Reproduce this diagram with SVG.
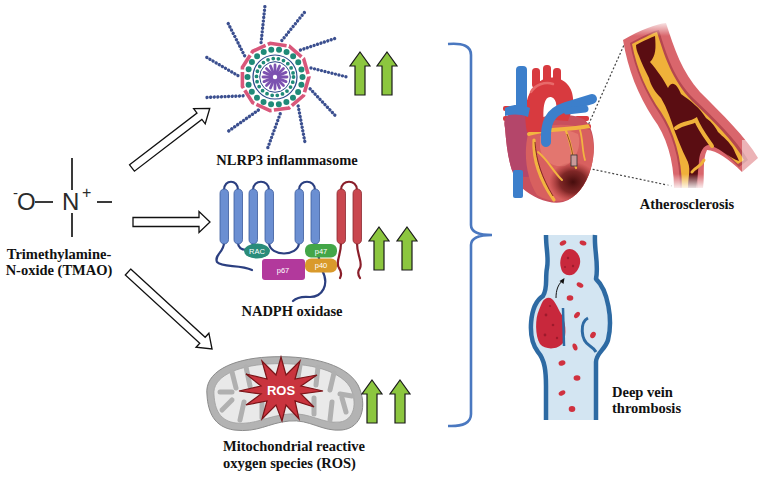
<svg xmlns="http://www.w3.org/2000/svg" width="760" height="478" viewBox="0 0 760 478">
<style>
.lbl{font-family:"Liberation Serif","Times New Roman",serif;font-weight:bold;font-size:14.5px;fill:#111}
.chem{font-family:"Liberation Sans",Arial,sans-serif;fill:#2b2b2b}
.bond{stroke:#3a3a3a;stroke-width:2;fill:none}
.hollow{fill:#fff;stroke:#111;stroke-width:1.3;stroke-linejoin:miter}
.garrow{fill:#8cc63f;stroke:#1a1a1a;stroke-width:1.2;stroke-linejoin:miter}
.spoke{stroke:#3b4f8f;stroke-width:3.4;stroke-linecap:round;stroke-dasharray:0 3.6;fill:none}
.rodb{fill:#6b8fd2;stroke:#3b5a9c;stroke-width:0.8}
.rodr{fill:#c9474f;stroke:#8a2a30;stroke-width:0.8}
.chainb{fill:none;stroke:#2b3f80;stroke-width:2.2;stroke-linecap:round}
.chainr{fill:none;stroke:#8a1e2a;stroke-width:2.2;stroke-linecap:round}
.prot{font-family:"Liberation Sans",Arial,sans-serif;font-size:7.5px;fill:#fff;text-anchor:middle}
.crista{stroke:#b0b0b0;stroke-width:5;stroke-linecap:round;fill:none}
.rbc{fill:#d0313f}
.vwall{fill:none;stroke:#2d6aa3;stroke-width:4.5;stroke-linejoin:round}
.dot{fill:none;stroke:#444;stroke-width:1.2;stroke-dasharray:2 2}
.cor{fill:none;stroke:#f2b441;stroke-linecap:round}
</style>
<defs>
<path id="ga" d="M10,0 L20,14 L15,14 L15,43 L5,43 L5,14 L0,14 Z"/>
<radialGradient id="infarct" cx="0.5" cy="0.5" r="0.5">
<stop offset="0" stop-color="#3e0808" stop-opacity="0.95"/>
<stop offset="0.55" stop-color="#621414" stop-opacity="0.75"/>
<stop offset="1" stop-color="#8a2020" stop-opacity="0"/>
</radialGradient>
<linearGradient id="fadeTop" x1="0" y1="0" x2="0" y2="1">
<stop offset="0" stop-color="#fff" stop-opacity="1"/>
<stop offset="1" stop-color="#fff" stop-opacity="0"/>
</linearGradient>
<linearGradient id="fadeBot" x1="0" y1="0" x2="0" y2="1">
<stop offset="0" stop-color="#fff" stop-opacity="0"/>
<stop offset="1" stop-color="#fff" stop-opacity="1"/>
</linearGradient>
<clipPath id="heartClip">
<path d="M505,128 C502,115 512,110 524,114 L540,118 C555,113 575,114 585,120 C595,130 596,150 591,168 C586,186 576,198 563,202 C550,205 533,198 522,188 C510,176 507,152 505,128 Z"/>
</clipPath>
</defs>
<rect width="760" height="478" fill="#fff"/>

<g id="tmao">
<text class="chem" x="13" y="198" font-size="15">-</text>
<text class="chem" x="17" y="210" font-size="24">O</text>
<line class="bond" x1="35" y1="202" x2="53" y2="202"/>
<text class="chem" x="62" y="210" font-size="24">N</text>
<text class="chem" x="82" y="198" font-size="16">+</text>
<line class="bond" x1="97" y1="202" x2="112" y2="202"/>
<line class="bond" x1="72" y1="158" x2="72" y2="190"/>
<line class="bond" x1="72" y1="213" x2="72" y2="237"/>
<text class="lbl" x="59" y="259" text-anchor="middle">Trimethylamine-</text>
<text class="lbl" x="59" y="275" text-anchor="middle">N-oxide (TMAO)</text>
</g>

<g id="connectors">
<path class="hollow" transform="translate(132,168) rotate(-37.5)" d="M0,-4 L85,-4 L85,-9.5 L98,0 L85,9.5 L85,4 L0,4 Z"/>
<path class="hollow" transform="translate(133,222)" d="M0,-4.5 L66,-4.5 L66,-10.5 L77,0 L66,10.5 L66,4.5 L0,4.5 Z"/>
<path class="hollow" transform="translate(128,272) rotate(42.5)" d="M0,-4 L101,-4 L101,-9.5 L114,0 L101,9.5 L101,4 L0,4 Z"/>
<path d="M448,44 Q471,42 471,55 L471,225 Q471,235 492,235 Q471,235 471,245 L471,414 Q471,427 448,426" fill="none" stroke="#4a78c0" stroke-width="2.6"/>
</g>

<g id="nlrp3">
<g transform="translate(275,77)">
<g>
<line class="spoke" transform="rotate(-98)" x1="36" y1="-9" x2="72" y2="0"/>
<line class="spoke" transform="rotate(-65.3)" x1="36" y1="-9" x2="72" y2="0"/>
<line class="spoke" transform="rotate(-32.6)" x1="36" y1="-9" x2="72" y2="0"/>
<line class="spoke" transform="rotate(0)" x1="36" y1="-9" x2="72" y2="0"/>
<line class="spoke" transform="rotate(32.7)" x1="36" y1="-9" x2="72" y2="0"/>
<line class="spoke" transform="rotate(65.4)" x1="36" y1="-9" x2="72" y2="0"/>
<line class="spoke" transform="rotate(96)" x1="36" y1="-9" x2="72" y2="0"/>
<line class="spoke" transform="rotate(130.8)" x1="36" y1="-9" x2="72" y2="0"/>
<line class="spoke" transform="rotate(163.5)" x1="36" y1="-9" x2="72" y2="0"/>
<line class="spoke" transform="rotate(196.2)" x1="36" y1="-9" x2="72" y2="0"/>
<line class="spoke" transform="rotate(229)" x1="36" y1="-9" x2="72" y2="0"/>
</g>
<polygon points="0,-34 18.4,-28.6 30.9,-14.1 33.6,4.8 25.7,22.3 9.6,32.6 -9.6,32.6 -25.7,22.3 -33.6,4.8 -30.9,-14.1 -18.4,-28.6" fill="none" stroke="#d9577a" stroke-width="3.6" stroke-linejoin="miter" stroke-dasharray="16.5 2.4" transform="rotate(-8)"/>
<circle r="27.5" fill="none" stroke="#1f8a78" stroke-width="6" stroke-linecap="round" stroke-dasharray="0 7.85"/>
<circle r="22" fill="none" stroke="#2d4a8a" stroke-width="1.2"/>
<circle r="18.5" fill="none" stroke="#1f8a78" stroke-width="3.8" stroke-linecap="round" stroke-dasharray="0 5.3"/>
<circle r="15.3" fill="none" stroke="#2d4a8a" stroke-width="1"/>
<g stroke="#7c52b0" stroke-width="2.8" stroke-linecap="round">
<line x1="0" y1="-3" x2="0" y2="-12"/><line x1="0" y1="3" x2="0" y2="12"/>
<line x1="-3" y1="0" x2="-12" y2="0"/><line x1="3" y1="0" x2="12" y2="0"/>
<line x1="2.1" y1="-2.1" x2="8.5" y2="-8.5"/><line x1="-2.1" y1="2.1" x2="-8.5" y2="8.5"/>
<line x1="2.1" y1="2.1" x2="8.5" y2="8.5"/><line x1="-2.1" y1="-2.1" x2="-8.5" y2="-8.5"/>
<line x1="1.2" y1="-2.8" x2="4.6" y2="-11"/><line x1="-1.2" y1="2.8" x2="-4.6" y2="11"/>
<line x1="2.8" y1="1.2" x2="11" y2="4.6"/><line x1="-2.8" y1="-1.2" x2="-11" y2="-4.6"/>
<line x1="-1.2" y1="-2.8" x2="-4.6" y2="-11"/><line x1="1.2" y1="2.8" x2="4.6" y2="11"/>
<line x1="2.8" y1="-1.2" x2="11" y2="-4.6"/><line x1="-2.8" y1="1.2" x2="-11" y2="4.6"/>
</g>
<circle r="2.2" fill="#fff"/>
</g>
<use href="#ga" class="garrow" x="350" y="52"/>
<use href="#ga" class="garrow" x="377" y="52"/>
<text class="lbl" x="287" y="165" text-anchor="middle">NLRP3 inflammasome</text>
</g>

<g id="nadph">
<path class="chainb" d="M224,190 C224,179 238,179 238,190"/>
<path class="chainb" d="M253,190 C253,179 269,179 269,190"/>
<path class="chainb" d="M299,190 C299,179 315,179 315,190"/>
<path class="chainr" d="M341,190 C341,179 357,179 357,190"/>
<path class="chainb" d="M238,243 C238,252 253,252 253,243"/>
<path class="chainb" d="M269,243 C270,257 298,257 299,243"/>
<path class="chainb" d="M224,243 C224,252 214,255 217,262 C222,268 240,264 252,270"/>
<path class="chainb" d="M315,243 L322,270 C330,285 322,297 310,297 C300,296 296,298 293,301"/>
<path class="chainr" d="M341,243 C341,256 335,262 339,268 C342,272 341,276 340,278"/>
<path class="chainr" d="M357,243 C357,256 363,262 360,268 C357,272 358,275 360,278"/>
<rect class="rodb" x="220" y="189" width="8.5" height="55" rx="4.25"/>
<rect class="rodb" x="234" y="189" width="8.5" height="55" rx="4.25"/>
<rect class="rodb" x="249" y="189" width="8.5" height="55" rx="4.25"/>
<rect class="rodb" x="265" y="189" width="8.5" height="55" rx="4.25"/>
<rect class="rodb" x="295" y="189" width="8.5" height="55" rx="4.25"/>
<rect class="rodb" x="311" y="189" width="8.5" height="55" rx="4.25"/>
<rect class="rodr" x="337" y="189" width="8.5" height="55" rx="4.25"/>
<rect class="rodr" x="353" y="189" width="8.5" height="55" rx="4.25"/>
<ellipse cx="257" cy="251" rx="13" ry="7.5" fill="#2a8c7a"/>
<text class="prot" x="257" y="254">RAC</text>
<rect x="262" y="259" width="43" height="21" rx="3" fill="#b2399c"/>
<text class="prot" x="283" y="273" font-size="8px">p67</text>
<rect x="305" y="244" width="32" height="13.5" rx="6" fill="#43a648"/>
<text class="prot" x="321" y="253.5">p47</text>
<rect x="305" y="258.5" width="32" height="14" rx="6" fill="#d99a2b"/>
<text class="prot" x="321" y="268">p40</text>
<use href="#ga" class="garrow" x="369" y="227"/>
<use href="#ga" class="garrow" x="397" y="227"/>
<text class="lbl" x="292" y="316" text-anchor="middle">NADPH oxidase</text>
</g>

<g id="ros">
<path d="M207,395 C204,372 232,359 268,357 C305,355 345,362 358,385 C368,405 362,428 342,430 C322,432 310,419 289,421 C268,423 258,433 234,430 C214,427 208,412 207,395 Z" fill="#b3b3b3" stroke="#8c8c8c" stroke-width="1"/>
<path d="M214,395 C212,377 236,366 268,364 C302,362 338,368 350,387 C358,403 354,420 340,422 C322,424 310,412 289,414 C266,416 256,425 236,423 C220,421 215,410 214,395 Z" fill="#e9e9e9" stroke="#9e9e9e" stroke-width="0.8"/>
<g class="crista">
<path d="M232,372 L236,388"/><path d="M246,367 L250,386"/><path d="M300,365 L297,383"/><path d="M318,367 L316,385"/><path d="M334,373 L330,390"/>
<path d="M222,410 L232,400"/><path d="M240,420 L244,402"/><path d="M262,418 L262,402"/><path d="M314,414 L314,398"/><path d="M330,420 L332,402"/><path d="M346,412 L342,398"/>
<path d="M220,392 L232,392"/><path d="M352,396 L340,394"/>
</g>
<polygon points="281,357 286,375 300,361 295,379 317,375 301,386 323,391 301,394 314,407 295,401 299,419 286,405 282,421 276,405 262,419 267,401 246,405 261,394 239,391 261,386 246,374 267,379 262,361 276,375" fill="#c9343e" stroke="#7a1418" stroke-width="1.2" stroke-linejoin="miter"/>
<text x="281" y="395" text-anchor="middle" font-family="Liberation Sans, Arial, sans-serif" font-weight="bold" font-size="13" fill="#fff">ROS</text>
<use href="#ga" class="garrow" x="362" y="380"/>
<use href="#ga" class="garrow" x="390" y="380"/>
<text class="lbl" x="223" y="451">Mitochondrial reactive</text>
<text class="lbl" x="223" y="468">oxygen species (ROS)</text>
</g>

<g id="atherosclerosis">
<line class="dot" x1="574" y1="157" x2="624" y2="45"/>
<line class="dot" x1="577" y1="166" x2="672" y2="186"/>
<path d="M623,40 C640,30 656,24 666,23 C674,48 682,72 700,92 C722,114 746,137 758,158 L742,172 C730,160 716,150 707,150 C702,160 705,175 703,188 L674,188 C674,160 666,135 653,118 C638,95 628,70 623,40 Z" fill="#d9666c"/>
<path d="M630,43 C645,35 653,31 659,30 C666,54 674,79 694,99 C714,118 737,140 748,160 L739,167 C727,155 715,144 705,142 C698,150 698,170 698,188 L680,188 C680,158 672,132 659,113 C645,92 635,70 630,43 Z" fill="#b5474f"/>
<path d="M632,44 C646,37 653,33 657,32 C664,55 672,80 692,101 C712,120 734,141 744,160 L738,164 C726,153 714,143 705,140 C696,148 696,170 696,188 L682,188 C682,158 674,132 661,112 C647,92 637,70 632,44 Z" fill="#f0b13a"/>
<path d="M636,45 C645,40 650,38 655,36 C656,48 656,56 650,62 C657,70 664,80 668,88 C672,80 677,84 681,94 C691,101 700,108 706,118 C712,122 716,128 718,132 C722,136 730,142 734,150 C736,155 738,158 739,161 C730,158 722,150 712,146 C706,142 700,150 699,160 C698,172 697,182 696,188 L688,188 C688,176 692,168 686,158 C682,150 679,142 675,132 C671,120 667,108 661,98 C655,92 651,86 649,78 C645,70 641,62 639,56 C637,52 636,48 636,45 Z" fill="#5a0d12"/>
<path d="M676,128 C684,122 690,124 696,120 C700,130 708,140 712,146" fill="none" stroke="#f0b13a" stroke-width="4" stroke-linecap="round"/>
<path d="M692,172 C696,166 700,168 704,160" fill="none" stroke="#f0b13a" stroke-width="3" stroke-linecap="round"/>
<rect x="618" y="20" width="60" height="16" fill="url(#fadeTop)"/>
<rect x="665" y="174" width="100" height="16" fill="url(#fadeBot)"/>
<rect x="742" y="140" width="18" height="40" fill="#fff" opacity="0.5"/>

<rect x="503" y="106" width="16" height="5" rx="2" fill="#d83a3f"/>
<rect x="503" y="116" width="16" height="5" rx="2" fill="#d83a3f"/>
<rect x="575" y="116" width="14" height="5" rx="2" fill="#d83a3f"/>
<rect x="577" y="124" width="14" height="5" rx="2" fill="#d83a3f"/>
<path d="M505,128 C502,115 512,110 524,114 L540,118 C555,113 575,114 585,120 C595,130 596,150 591,168 C586,186 576,198 563,202 C550,205 533,198 522,188 C510,176 507,152 505,128 Z" fill="#c8505d"/>
<g clip-path="url(#heartClip)">
<path d="M503,126 C502,114 514,110 527,116 C537,128 541,152 536,172 C530,180 516,178 510,168 C505,156 504,140 503,126 Z" fill="#b4466a"/>
<path d="M528,134 C542,123 568,122 590,130 C597,148 594,172 584,190 C574,202 552,205 537,195 C527,180 523,155 528,134 Z" fill="#d8605f"/>
<path d="M540,136 C548,128 566,128 578,134 C582,146 576,160 565,166 C552,168 542,160 540,148 Z" fill="#e3766f"/>
<ellipse cx="573" cy="182" rx="24" ry="20" fill="url(#infarct)"/>
<path class="cor" d="M529,134 C545,128 562,131 590,126" stroke-width="4"/>
<path class="cor" d="M534,140 C533,160 540,180 554,200" stroke-width="3.2"/>
<path class="cor" d="M538,152 C548,160 552,170 562,180" stroke-width="2"/>
<path class="cor" d="M566,131 C572,145 572,156 576,168" stroke-width="2.2"/>
<path class="cor" d="M580,130 C583,140 582,150 585,160" stroke-width="1.8"/>
<path d="M535,142 C536,160 542,178 553,196" fill="none" stroke="#7a2020" stroke-width="0.9"/>
<path d="M567,134 C572,146 572,156 576,166" fill="none" stroke="#7a2020" stroke-width="0.7"/>
</g>
<rect x="532" y="68" width="8" height="20" rx="3.5" fill="#d83a3f"/>
<rect x="543" y="65" width="8" height="20" rx="3.5" fill="#d83a3f"/>
<rect x="553" y="68" width="8" height="18" rx="3.5" fill="#d83a3f"/>
<path d="M527,132 C523,110 526,88 542,80 C556,73 572,82 573,98 C574,107 571,113 568,121 L555,120 C557,109 558,99 551,97 C543,96 542,112 545,132 Z" fill="#d83a3f"/>
<path d="M531,92 C535,85 545,81 553,84" fill="none" stroke="#e86a6a" stroke-width="2.5" stroke-linecap="round"/>
<rect x="516" y="66" width="11" height="46" rx="4" fill="#3c7fcb"/>
<path d="M505,108 C512,104 522,104 530,108 L528,117 C520,114 512,114 505,116 Z" fill="#3c7fcb"/>
<path d="M546,142 C545,122 550,112 566,107 L592,99" fill="none" stroke="#3c7fcb" stroke-width="10" stroke-linecap="round"/>
<path d="M567,111 L585,109" fill="none" stroke="#3c7fcb" stroke-width="7" stroke-linecap="round"/>
<rect x="513" y="170" width="10" height="28" rx="2" fill="#3c7fcb"/>
<rect x="571" y="155" width="6" height="11" fill="#c99a9a" stroke="#333" stroke-width="0.8"/>
<text class="lbl" x="687" y="209" text-anchor="middle">Atherosclerosis</text>
</g>

<g id="dvt">
<path d="M548,235 L593,235 C592,250 597,265 594,280 C606,290 611,320 606,340 C603,350 594,352 594,362 L594,420 L548,420 L548,386 C548,370 545,358 540,352 C528,338 530,305 545,298 C549,288 546,278 549,268 C551,258 548,248 548,235 Z" fill="#d3e5f2"/>
<path class="vwall" d="M546,235 C546,250 549,258 547,268 C545,278 548,288 543,296 C529,305 527,338 538,352 C545,360 546,372 546,386 L546,420"/>
<path class="vwall" d="M595,235 C594,250 599,265 596,279 C608,290 613,320 608,340 C605,350 596,353 596,362 L596,420"/>
<path d="M588,318 C580,322 580,340 590,346 C593,348 595,350 596,352" fill="none" stroke="#2d6aa3" stroke-width="3"/>
<path d="M545,299 C552,294 556,304 560,312 C566,320 567,335 563,343 C558,350 545,350 540,344 C535,336 535,318 539,310 C541,305 542,301 545,299 Z" fill="#c8283c"/>
<g fill="#9e1a2c"><circle cx="546" cy="315" r="1.4"/><circle cx="553" cy="325" r="1.3"/><circle cx="545" cy="335" r="1.4"/><circle cx="557" cy="338" r="1.2"/><circle cx="550" cy="306" r="1.1"/></g>
<path d="M563,308 L564,346" stroke="#2d6aa3" stroke-width="2.5" fill="none"/>
<path d="M566,250 C571,247 577,251 579,256 C582,262 579,270 574,274 C568,277 562,274 561,268 C559,262 561,254 566,250 Z" fill="#c8283c"/>
<g fill="#9e1a2c"><circle cx="568" cy="258" r="1.2"/><circle cx="573" cy="266" r="1.2"/><circle cx="565" cy="267" r="1"/></g>
<path d="M556,298 C556,290 558,285 562,281" fill="none" stroke="#111" stroke-width="1"/>
<path d="M564.5,278 L563.5,284 L559.5,281 Z" fill="#111"/>
<g class="rbc">
<ellipse cx="563" cy="243" rx="3.5" ry="2.3" transform="rotate(-30 563 243)"/>
<ellipse cx="583" cy="243" rx="3.5" ry="2.3" transform="rotate(20 583 243)"/>
<ellipse cx="580" cy="285" rx="3.6" ry="2.3" transform="rotate(30 580 285)"/>
<ellipse cx="570" cy="298" rx="3.3" ry="2.8"/>
<ellipse cx="577" cy="315" rx="3.6" ry="2.3" transform="rotate(-50 577 315)"/>
<ellipse cx="593" cy="335" rx="3.4" ry="2.6" transform="rotate(-60 593 335)"/>
<ellipse cx="575" cy="347" rx="3.6" ry="2.3" transform="rotate(70 575 347)"/>
<ellipse cx="562" cy="363" rx="3.5" ry="2.6" transform="rotate(-20 562 363)"/>
<ellipse cx="577" cy="378" rx="3.4" ry="2.8"/>
<ellipse cx="562" cy="393" rx="3.6" ry="2.3" transform="rotate(-30 562 393)"/>
<ellipse cx="572" cy="409" rx="3.3" ry="2.9"/>
</g>
<text class="lbl" x="612" y="397">Deep vein</text>
<text class="lbl" x="612" y="413">thrombosis</text>
</g>
</svg>
